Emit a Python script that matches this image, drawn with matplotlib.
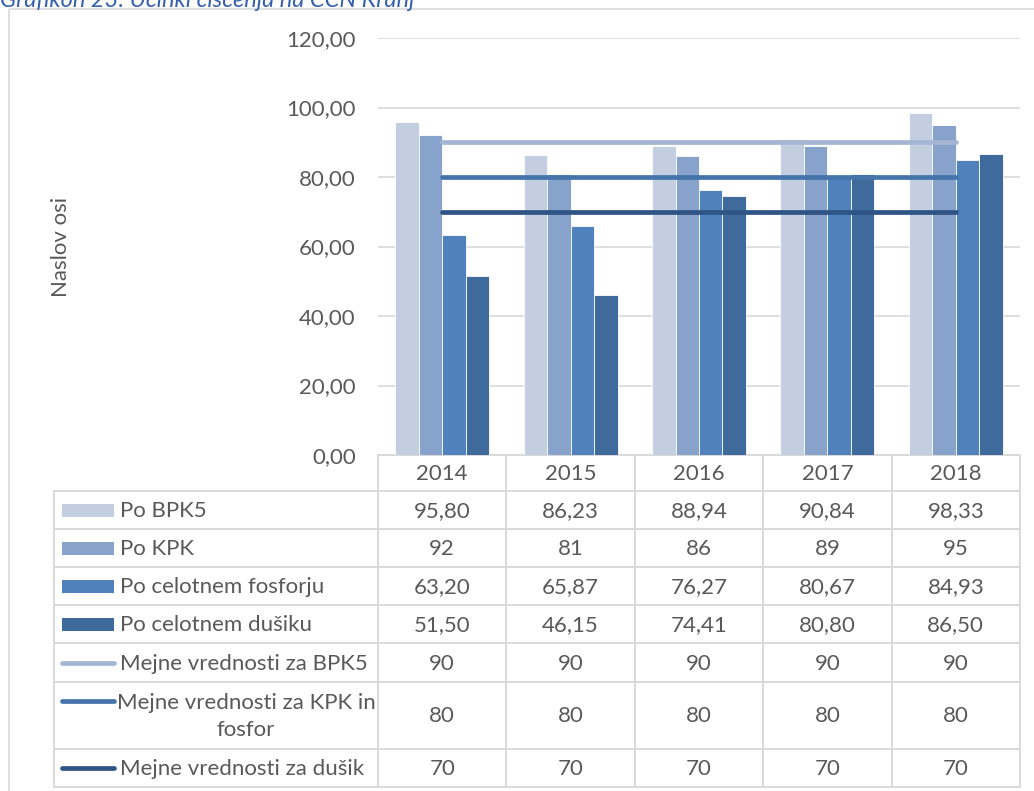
import matplotlib.pyplot as plt
from matplotlib.patches import Rectangle
from matplotlib.ticker import FuncFormatter, MultipleLocator

# data
years = ["2014", "2015", "2016", "2017", "2018"]
bpk5 = [95.80, 86.23, 88.94, 90.84, 98.33]
kpk = [92, 81, 86, 89, 95]
fosfor = [63.20, 65.87, 76.27, 80.67, 84.93]
dusik = [51.50, 46.15, 74.41, 80.80, 86.50]
lim_bpk5 = [90, 90, 90, 90, 90]
lim_kpk = [80, 80, 80, 80, 80]
lim_dusik = [70, 70, 70, 70, 70]

bar_names = ["Po BPK5", "Po KPK", "Po celotnem fosforju", "Po celotnem dušiku"]
line_names = ["Mejne vrednosti za BPK5", "Mejne vrednosti za KPK in\nfosfor",
              "Mejne vrednosti za dušik"]

bar_colors = ["#c4cee1", "#87a2cb", "#4f81bd", "#3f6a9c"]
line_colors = ["#a5b6d5", "#4474a9", "#2f5486"]
TXT = "#595959"
GRID = "#d9d9d9"
FONT = "Lato"
FS = 16

W, H = 1034, 791
fig = plt.figure(figsize=(W / 100, H / 100), dpi=100)
plt.rcParams["font.family"] = [FONT, "DejaVu Sans"]

# pixel layout
ax_left, ax_right, ax_top, ax_bottom = 378, 1020, 38, 455
tbl_left = 54
row_edges = [491, 529, 567, 605, 643, 682, 749, 787]

ax = fig.add_axes([ax_left / W, 1 - ax_bottom / H, (ax_right - ax_left) / W,
                   (ax_bottom - ax_top) / H])
ax.set_facecolor("none")
x = list(range(len(years)))
bw = 0.183
series = [bpk5, kpk, fosfor, dusik]
for i, (vals, c) in enumerate(zip(series, bar_colors)):
    ax.bar([xi + (i - 1.5) * bw for xi in x], vals, width=bw, color=c,
           edgecolor="white", linewidth=0.6, zorder=2)
for vals, c in zip([lim_bpk5, lim_kpk, lim_dusik], line_colors):
    ax.plot(x, vals, color=c, lw=3.4, solid_capstyle="round", zorder=3)

ax.set_xlim(-0.5, len(years) - 0.5)
ax.set_ylim(0, 120)
ax.yaxis.set_major_locator(MultipleLocator(20))
ax.yaxis.set_major_formatter(FuncFormatter(lambda v, p: f"{v:.2f}".replace(".", ",")))
ax.grid(axis="y", color=GRID, lw=1.2, zorder=0)
ax.set_xticks([])
ax.tick_params(axis="y", length=0, pad=16, labelsize=FS, labelcolor=TXT)
for s in ax.spines.values():
    s.set_visible(False)

# overlay in pixel coordinates for the data table and frame
ov = fig.add_axes([0, 0, 1, 1], zorder=-1)
ov.set_xlim(0, W)
ov.set_ylim(H, 0)
ov.axis("off")

ov.add_patch(Rectangle((9, 9), W + 10, H + 10, fill=False, edgecolor=GRID, lw=1.2))
ov.text(0, 7, "Grafikon 23: Učinki čiščenja na CČN Kranj", fontsize=17,
        style="italic", color="#3560ad", va="baseline", ha="left")
ov.text(61, 247, "Naslov osi", rotation=90, fontsize=FS, color=TXT,
        ha="center", va="center")

col_w = (ax_right - ax_left) / len(years)
col_edges = [ax_left + i * col_w for i in range(len(years) + 1)]
col_centers = [ax_left + (i + 0.5) * col_w for i in range(len(years))]

# grid lines of the table
ov.plot([ax_left, ax_right], [ax_bottom, ax_bottom], color=GRID, lw=1.4)
for y in row_edges:
    ov.plot([tbl_left, ax_right], [y, y], color=GRID, lw=1.4)
ov.plot([tbl_left, tbl_left], [row_edges[0], row_edges[-1]], color=GRID, lw=1.4)
for xe in col_edges:
    ov.plot([xe, xe], [ax_bottom, row_edges[-1]], color=GRID, lw=1.4)

for xc, yr in zip(col_centers, years):
    ov.text(xc, (ax_bottom + row_edges[0]) / 2 + 1, yr, fontsize=FS, color=TXT,
            ha="center", va="center")

def fmt2(v):
    return f"{v:.2f}".replace(".", ",")

def fmt0(v):
    return f"{v:d}"

table_rows = [
    [fmt2(v) for v in bpk5],
    [fmt0(v) for v in kpk],
    [fmt2(v) for v in fosfor],
    [fmt2(v) for v in dusik],
    [fmt0(v) for v in lim_bpk5],
    [fmt0(v) for v in lim_kpk],
    [fmt0(v) for v in lim_dusik],
]

for r, cells in enumerate(table_rows):
    yc = (row_edges[r] + row_edges[r + 1]) / 2 + 1
    for xc, s in zip(col_centers, cells):
        ov.text(xc, yc, s, fontsize=FS, color=TXT, ha="center", va="center")

# legend keys in the row headers
for r, (name, c) in enumerate(zip(bar_names, bar_colors)):
    yc = (row_edges[r] + row_edges[r + 1]) / 2
    ov.add_patch(Rectangle((62, yc - 6.5), 52, 13, color=c, lw=0))
    ov.text(120, yc + 1, name, fontsize=FS, color=TXT, ha="left", va="center")

for k, (name, c) in enumerate(zip(line_names, line_colors)):
    r = 4 + k
    yc = (row_edges[r] + row_edges[r + 1]) / 2
    if "\n" in name:
        ly = row_edges[r] + 19
        ov.plot([62, 114], [ly, ly], color=c, lw=3.4, solid_capstyle="round")
        ov.text(246, yc + 1, name, fontsize=FS, color=TXT, ha="center",
                va="center", multialignment="center", linespacing=1.45)
    else:
        ov.plot([62, 114], [yc, yc], color=c, lw=3.4, solid_capstyle="round")
        ov.text(120, yc + 1, name, fontsize=FS, color=TXT, ha="left", va="center")

fig.savefig("out.png", dpi=100)
